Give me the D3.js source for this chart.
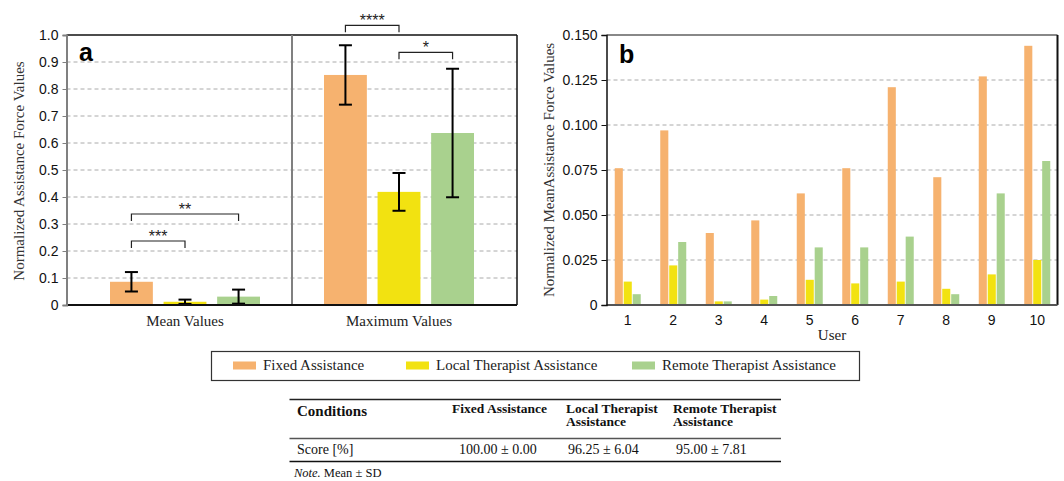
<!DOCTYPE html>
<html>
<head>
<meta charset="utf-8">
<script src="https://cdn.jsdelivr.net/npm/d3@7"></script>
<style>
	body { margin: 0; background: #fff; }
	svg { display: block; }
</style>
</head>
<body>
<div id="chart"></div>
<script>
// values
let groups = ['Mean Values', 'Maximum Values'];
let conditions = ['Fixed Assistance', 'Local Therapist Assistance', 'Remote Therapist Assistance'];
let colors = ['#f6b26f', '#f2e211', '#a9d18e'];
let meanValues = [0.086, 0.012, 0.031];
let meanErrors = [0.036, 0.008, 0.026];
let maxValues = [0.852, 0.419, 0.637];
let maxErrors = [0.11, 0.07, 0.238];
let sigGroup = [0, 0, 1, 1];
let sigFrom = [0, 0, 0, 1];
let sigTo = [1, 2, 1, 2];
let sigLevel = [0.237, 0.337, 1.036, 0.936];
let sigLabels = ['***', '**', '****', '*'];
let ticksA = [0, 0.1, 0.2, 0.3, 0.4, 0.5, 0.6, 0.7, 0.8, 0.9, 1.0];

let users = ['1', '2', '3', '4', '5', '6', '7', '8', '9', '10'];
let fixedByUser = [0.076, 0.097, 0.040, 0.047, 0.062, 0.076, 0.121, 0.071, 0.127, 0.144];
let localByUser = [0.013, 0.022, 0.002, 0.003, 0.014, 0.012, 0.013, 0.009, 0.017, 0.025];
let remoteByUser = [0.006, 0.035, 0.002, 0.005, 0.032, 0.032, 0.038, 0.006, 0.062, 0.080];
let ticksB = [0, 0.025, 0.05, 0.075, 0.1, 0.125, 0.15];

let tableHeader = ['Conditions', 'Fixed Assistance', 'Local Therapist|Assistance', 'Remote Therapist|Assistance'];
let tableRow = ['Score [%]', '100.00 ± 0.00', '96.25 ± 6.04', '95.00 ± 7.81'];

let width = 1064,
	height = 481;
let sans = 'Liberation Sans, Arial, sans-serif';
let serif = 'Liberation Serif, Times New Roman, serif';

let svg = d3.select('#chart').append('svg').attr('width', width).attr('height', height);

function gridLines(g, y, ticks, x0, x1) {
	g.selectAll('line.grid')
		.data(ticks.slice(1, -1))
		.enter()
		.append('line')
		.attr('class', 'grid')
		.attr('x1', x0)
		.attr('x2', x1)
		.attr('y1', (d) => y(d))
		.attr('y2', (d) => y(d))
		.attr('stroke', '#aaa')
		.attr('stroke-dasharray', '4,3');
}

function drawPanelA() {
	let left = 66.5,
		right = 517,
		top = 35,
		bottom = 305;
	let g = svg.append('g');
	let y = d3.scaleLinear().domain([0, 1]).range([bottom, top]);
	let x = d3.scaleBand().domain(groups).range([78, 506]);
	let xi = d3.scaleBand().domain([0, 1, 2]).range([32, 182]).paddingInner(0.2);

	gridLines(g, y, ticksA, left, right);

	let sets = [
		{ values: meanValues, errors: meanErrors },
		{ values: maxValues, errors: maxErrors },
	];
	sets.forEach(function (s, gi) {
		let gx = x(groups[gi]);
		let bars = g.append('g').attr('transform', 'translate(' + gx + ',0)');
		bars.selectAll('rect')
			.data(s.values)
			.enter()
			.append('rect')
			.attr('x', (d, i) => xi(i))
			.attr('y', (d) => y(d))
			.attr('width', xi.bandwidth())
			.attr('height', (d) => y(0) - y(d))
			.attr('fill', (d, i) => colors[i]);

		// error bars
		let cap = 6.5;
		s.values.forEach(function (v, i) {
			let cx = xi(i) + xi.bandwidth() / 2;
			let lo = y(Math.max(0, v - s.errors[i])),
				hi = y(v + s.errors[i]);
			let eb = bars.append('g').attr('stroke', '#000').attr('stroke-width', 2);
			eb.append('line').attr('x1', cx).attr('x2', cx).attr('y1', lo).attr('y2', hi);
			eb.append('line').attr('x1', cx - cap).attr('x2', cx + cap).attr('y1', lo).attr('y2', lo);
			eb.append('line').attr('x1', cx - cap).attr('x2', cx + cap).attr('y1', hi).attr('y2', hi);
		});

		g.append('text')
			.attr('x', gx + x.bandwidth() / 2)
			.attr('y', 326)
			.attr('text-anchor', 'middle')
			.style('font-family', serif)
			.style('font-size', '15px')
			.attr('fill', '#222')
			.text(groups[gi]);
	});

	// significance brackets
	sigLabels.forEach(function (label, k) {
		let gx = x(groups[sigGroup[k]]);
		let x1 = gx + xi(sigFrom[k]) + xi.bandwidth() / 2;
		let x2 = gx + xi(sigTo[k]) + xi.bandwidth() / 2;
		let yb = y(sigLevel[k]);
		g.append('path')
			.attr('d', 'M' + x1 + ',' + (yb + 7) + 'V' + yb + 'H' + x2 + 'V' + (yb + 7))
			.attr('fill', 'none')
			.attr('stroke', '#222')
			.attr('stroke-width', 1.2);
		g.append('text')
			.attr('x', (x1 + x2) / 2)
			.attr('y', yb + 1)
			.attr('text-anchor', 'middle')
			.style('font-family', sans)
			.style('font-size', '16px')
			.attr('fill', '#222')
			.text(label);
	});

	// frame
	g.append('line').attr('x1', left).attr('x2', right).attr('y1', top).attr('y2', top).attr('stroke', '#111').attr('stroke-width', 1.5);
	g.append('line').attr('x1', right).attr('x2', right).attr('y1', top).attr('y2', bottom).attr('stroke', '#111').attr('stroke-width', 1.5);
	g.append('line').attr('x1', 292).attr('x2', 292).attr('y1', top).attr('y2', bottom).attr('stroke', '#808080').attr('stroke-width', 2);
	g.append('line').attr('x1', left).attr('x2', right).attr('y1', bottom).attr('y2', bottom).attr('stroke', '#111').attr('stroke-width', 2);

	let axis = d3.axisLeft(y).tickValues(ticksA).tickSize(4).tickPadding(4).tickFormat((d) => (d === 0 ? '0' : d3.format('.1f')(d)));
	let ag = g.append('g').attr('transform', 'translate(' + left + ',0)').call(axis);
	ag.select('.domain').attr('stroke', '#808080').attr('stroke-width', 2);
	ag.selectAll('.tick line').attr('stroke', '#808080');
	ag.selectAll('.tick text').style('font-family', sans).style('font-size', '14px').attr('fill', '#111');

	g.append('text')
		.attr('transform', 'translate(24,171) rotate(-90)')
		.attr('text-anchor', 'middle')
		.style('font-family', serif)
		.style('font-size', '15px')
		.attr('fill', '#333')
		.text('Normalized Assistance Force Values');

	g.append('text')
		.attr('x', 79)
		.attr('y', 61)
		.style('font-family', sans)
		.style('font-weight', 'bold')
		.style('font-size', '25px')
		.text('a');
}

function drawPanelB() {
	let left = 606.5,
		right = 1057.5,
		top = 35,
		bottom = 305;
	let g = svg.append('g');
	let y = d3.scaleLinear().domain([0, 0.15]).range([bottom, top]);
	let x = d3.scaleBand().domain(users).range([605, 1060]);
	let half = 13;
	let xi = d3.scaleBand().domain([0, 1, 2]).range([-half, half]).paddingInner(0.1);

	gridLines(g, y, ticksB, left, right);

	let series = [fixedByUser, localByUser, remoteByUser];
	series.forEach(function (vals, si) {
		g.append('g')
			.selectAll('rect')
			.data(vals)
			.enter()
			.append('rect')
			.attr('x', (d, i) => x(users[i]) + x.bandwidth() / 2 + xi(si))
			.attr('y', (d) => y(d))
			.attr('width', xi.bandwidth())
			.attr('height', (d) => y(0) - y(d))
			.attr('fill', colors[si]);
	});

	g.append('line').attr('x1', left).attr('x2', right).attr('y1', top).attr('y2', top).attr('stroke', '#888').attr('stroke-width', 2);
	g.append('line').attr('x1', right).attr('x2', right).attr('y1', top).attr('y2', bottom).attr('stroke', '#111').attr('stroke-width', 2);
	g.append('line').attr('x1', left).attr('x2', right).attr('y1', bottom).attr('y2', bottom).attr('stroke', '#555').attr('stroke-width', 2);

	let axis = d3.axisLeft(y).tickValues(ticksB).tickSize(5).tickPadding(4).tickFormat((d) => (d === 0 ? '0' : d3.format('.3f')(d)));
	let ag = g.append('g').attr('transform', 'translate(' + left + ',0)').call(axis);
	ag.select('.domain').attr('stroke', '#111').attr('stroke-width', 1.5);
	ag.selectAll('.tick line').attr('stroke', '#111');
	ag.selectAll('.tick text').style('font-family', sans).style('font-size', '14px').attr('fill', '#111');

	let xAxis = d3.axisBottom(x).tickSize(0).tickPadding(10);
	let xg = g.append('g').attr('transform', 'translate(0,' + bottom + ')').call(xAxis);
	xg.select('.domain').remove();
	xg.selectAll('.tick text').style('font-family', sans).style('font-size', '14px').attr('fill', '#111');

	g.append('text')
		.attr('x', 832)
		.attr('y', 340)
		.attr('text-anchor', 'middle')
		.style('font-family', serif)
		.style('font-size', '15px')
		.attr('fill', '#222')
		.text('User');

	g.append('text')
		.attr('transform', 'translate(554,170) rotate(-90)')
		.attr('text-anchor', 'middle')
		.style('font-family', serif)
		.style('font-size', '15px')
		.attr('fill', '#333')
		.text('Normalized MeanAssistance Force Values');

	g.append('text')
		.attr('x', 619)
		.attr('y', 63)
		.style('font-family', sans)
		.style('font-weight', 'bold')
		.style('font-size', '25px')
		.text('b');
}

function drawLegend() {
	let g = svg.append('g');
	g.append('rect')
		.attr('x', 211.5)
		.attr('y', 351.5)
		.attr('width', 648)
		.attr('height', 29)
		.attr('fill', 'none')
		.attr('stroke', '#333')
		.attr('stroke-width', 1.2);
	let swatchX = [233, 406, 632];
	let item = g.selectAll('g.item')
		.data(conditions)
		.enter()
		.append('g')
		.attr('transform', (d, i) => 'translate(' + swatchX[i] + ',0)');
	item.append('rect').attr('y', 361.5).attr('width', 23).attr('height', 8).attr('fill', (d, i) => colors[i]);
	item.append('text')
		.attr('x', 30)
		.attr('y', 370)
		.style('font-family', serif)
		.style('font-size', '15px')
		.attr('fill', '#222')
		.text((d) => d);
}

function drawTable() {
	let g = svg.append('g');
	let colX = [297, 452, 566, 673];
	let valX = [297, 459, 568, 676];
	let x0 = 289.5,
		x1 = 781;
	g.append('line').attr('x1', x0).attr('x2', x1).attr('y1', 399.5).attr('y2', 399.5).attr('stroke', '#222').attr('stroke-width', 1.6);
	g.append('line').attr('x1', x0).attr('x2', x1).attr('y1', 438.5).attr('y2', 438.5).attr('stroke', '#555').attr('stroke-width', 1.4);
	g.append('line').attr('x1', x0).attr('x2', x1).attr('y1', 461.5).attr('y2', 461.5).attr('stroke', '#111').attr('stroke-width', 1.6);

	// header cells, '|' marks a line break
	tableHeader.forEach(function (h, i) {
		let lines = h.split('|');
		lines.forEach(function (l, li) {
			g.append('text')
				.attr('x', colX[i])
				.attr('y', (i === 0 ? 416 : 413) + li * 13)
				.style('font-family', serif)
				.style('font-weight', 'bold')
				.style('font-size', i === 0 ? '15px' : '13.5px')
				.attr('fill', '#111')
				.text(l);
		});
	});

	tableRow.forEach(function (v, i) {
		g.append('text')
			.attr('x', valX[i])
			.attr('y', 454)
			.style('font-family', serif)
			.style('font-size', '14px')
			.attr('fill', '#111')
			.text(v);
	});

	let note = g.append('text')
		.attr('x', 294)
		.attr('y', 477)
		.style('font-family', serif)
		.style('font-size', '12.5px')
		.attr('fill', '#111');
	note.append('tspan').style('font-style', 'italic').text('Note.');
	note.append('tspan').text(' Mean ± SD');
}

drawPanelA();
drawPanelB();
drawLegend();
drawTable();
</script>
</body>
</html>
